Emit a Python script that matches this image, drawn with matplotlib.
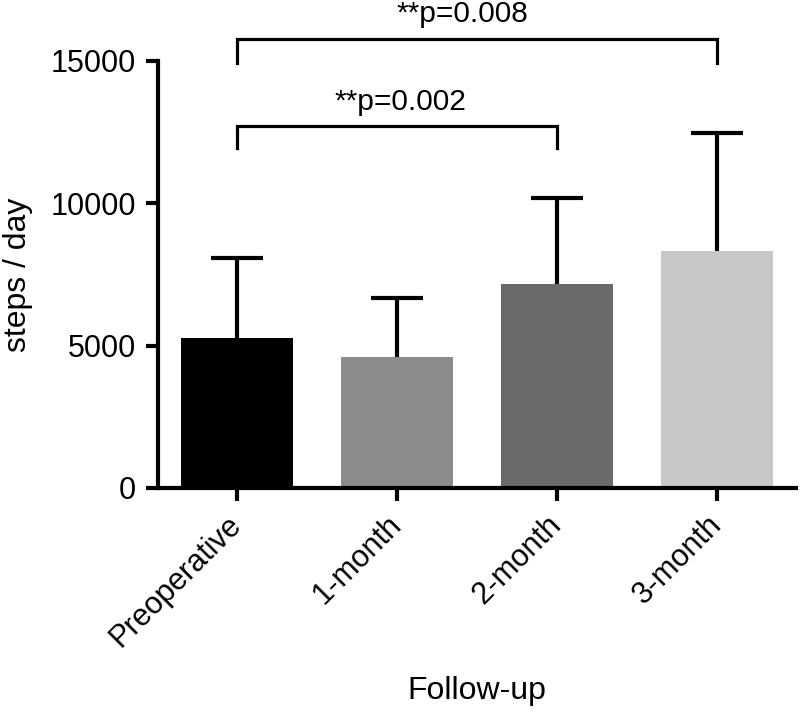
import matplotlib
matplotlib.use("Agg")
import matplotlib.pyplot as plt

plt.rcParams['font.family'] = ['Liberation Sans', 'DejaVu Sans']

# data
groups = ['Preoperative', '1-month', '2-month', '3-month']
means = [5258, 4587, 7163, 8328]
sds = [2823, 2082, 3035, 4128]
colors = ['#000000', '#8c8c8c', '#6a6a6a', '#c8c8c8']
yticks = [0, 5000, 10000, 15000]

# significance brackets: (left group, right group, bar height, tip height, label, label x)
brackets = [
    (0, 2, 12700, 11960, '**p=0.002', 1.02),
    (0, 3, 15770, 14930, '**p=0.008', 1.41),
]

fig = plt.figure(figsize=(8, 7.15), dpi=100)
ax = fig.add_axes([0.1975, 0.3175, 0.7975, 0.5972])

x = list(range(len(groups)))
ax.bar(x, means, width=0.7, color=colors, zorder=2)
# upper error bars only
_, caps, _ = ax.errorbar(x, means, yerr=[[0] * len(sds), sds], fmt='none',
                         ecolor='black', elinewidth=3, capsize=19, capthick=3,
                         zorder=3)
caps[0].set_visible(False)

for left, right, top, tip, label, lx in brackets:
    ax.plot([left, left, right, right], [tip, top, top, tip], color='black',
            lw=2.3, clip_on=False, solid_joinstyle='miter')
    ax.text(lx, top + 590, label, ha='center', va='baseline', fontsize=21.5)

ax.set_xlim(-0.494, 3.494)
ax.set_ylim(0, 15000)
ax.set_yticks(yticks)
ax.set_xticks(x)
ax.set_xticklabels(groups, rotation=45, ha='right', va='center',
                   rotation_mode='anchor', fontsize=22)
ax.tick_params(axis='y', labelsize=22, width=3, length=9, pad=7)
ax.tick_params(axis='x', width=3, length=9, pad=14)

for side in ['top', 'right']:
    ax.spines[side].set_visible(False)
for side in ['left', 'bottom']:
    ax.spines[side].set_linewidth(3)

ax.set_ylabel('steps / day', fontsize=23)
ax.yaxis.set_label_coords(-0.196, 0.5)
ax.set_xlabel('Follow-up', fontsize=23)
ax.xaxis.set_label_coords(0.5, -0.44)

fig.savefig('out.png', dpi=100)
